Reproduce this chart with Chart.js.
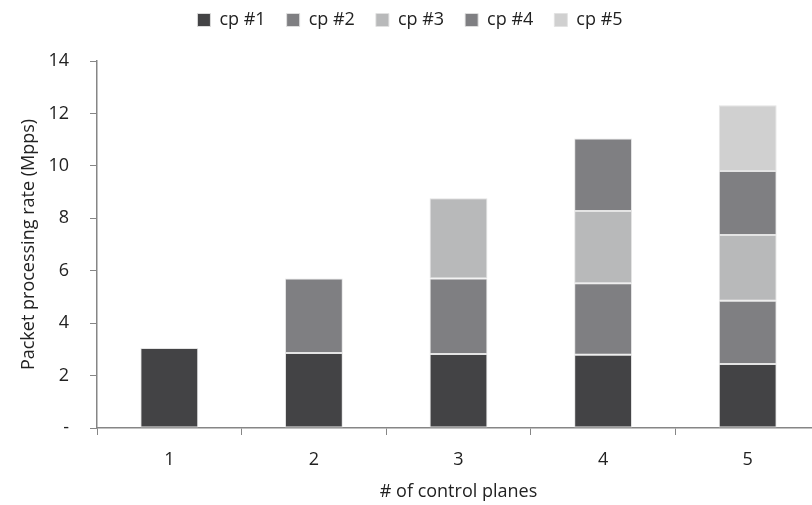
<!DOCTYPE html>
<html>
<head>
<meta charset="utf-8">
<script src="https://cdn.jsdelivr.net/npm/chart.js@4"></script>
<style>
  html, body { margin: 0; padding: 0; overflow: hidden; background: #fff; }
  #wrap { width: 825px; height: 505px; }
</style>
</head>
<body>
<div id="wrap"><canvas id="mycanvas" width="825" height="505"></canvas></div>
<script>
var categories = ['1', '2', '3', '4', '5'];
var seriesNames = ['cp #1', 'cp #2', 'cp #3', 'cp #4', 'cp #5'];
var cp1 = [3.05, 2.86, 2.82, 2.79, 2.44];
var cp2 = [null, 2.84, 2.88, 2.73, 2.41];
var cp3 = [null, null, 3.06, 2.76, 2.51];
var cp4 = [null, null, null, 2.76, 2.44];
var cp5 = [null, null, null, null, 2.51];
var yTicks = [0, 2, 4, 6, 8, 10, 12, 14];

var colors = ['#434345', '#7f7f82', '#b8b9ba', '#7f7f82', '#d0d0d0'];
var values = [cp1, cp2, cp3, cp4, cp5];

var datasets = [];
for (var i in values) {
  datasets.push({
    label: seriesNames[i],
    data: values[i],
    backgroundColor: colors[i],
    borderColor: 'rgba(225,225,225,0.9)',
    borderWidth: 1,
    borderSkipped: false,
    barPercentage: 0.4,
    categoryPercentage: 1.0
  });
}

Chart.defaults.font.family = "'Open Sans', sans-serif";
Chart.defaults.color = '#222';

// fixed legend height so the plot starts where the original does
var legendHeight = {
  id: 'legendHeight',
  beforeInit: function(chart) {
    var fit = chart.legend.fit;
    chart.legend.fit = function() {
      fit.bind(chart.legend)();
      this.height = 71;
    };
  }
};

var ctx = document.getElementById('mycanvas');
new Chart(ctx, {
  type: 'bar',
  data: { labels: categories, datasets: datasets },
  plugins: [legendHeight],
  options: {
    responsive: false,
    animation: false,
    layout: { padding: { left: 0, right: 5, top: -10, bottom: 0 } },
    plugins: {
      tooltip: { enabled: false },
      legend: {
        position: 'top',
        labels: {
          boxWidth: 13,
          boxHeight: 13,
          padding: 21,
          font: { size: 18 },
          color: '#222'
        }
      }
    },
    scales: {
      x: {
        stacked: true,
        afterFit: function(axis) { axis.height = 77; },
        grid: { drawOnChartArea: false, tickLength: 7, color: '#868686', offset: true },
        border: { color: '#868686', width: 1.5 },
        ticks: { font: { size: 18 }, color: '#222', padding: 14 },
        title: { display: true, text: '# of control planes', font: { size: 18 }, color: '#222', padding: { top: 0, bottom: 2 } }
      },
      y: {
        stacked: true,
        min: 0,
        max: 14,
        afterBuildTicks: function(axis) {
          axis.ticks = yTicks.map(function(v) { return { value: v }; });
        },
        afterFit: function(axis) { axis.width = 97; },
        grid: { drawOnChartArea: false, tickLength: 7, color: '#868686' },
        border: { color: '#868686', width: 1.5 },
        ticks: {
          font: { size: 18 },
          color: '#222',
          padding: 21,
          callback: function(v) { return v === 0 ? '-' : v; }
        },
        title: { display: true, text: 'Packet processing rate (Mpps)', font: { size: 18 }, color: '#222', padding: { top: 18, bottom: 0 } }
      }
    }
  }
});
</script>
</body>
</html>
